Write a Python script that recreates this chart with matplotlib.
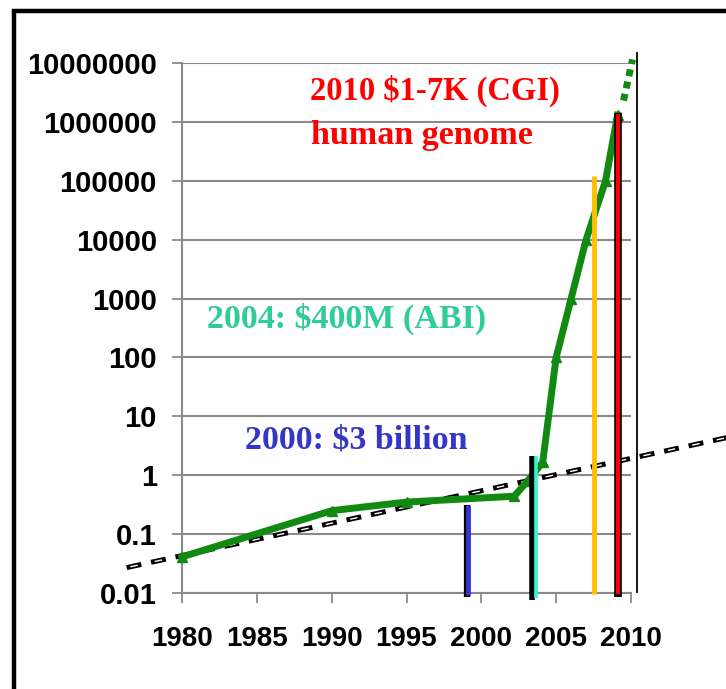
import matplotlib
matplotlib.use("Agg")
import matplotlib.pyplot as plt
from matplotlib.lines import Line2D
from matplotlib.ticker import FixedLocator, FixedFormatter

# sequencing cost curve (green)
green_years = [1980, 1990, 1995, 2002.2, 2003.1, 2004.1, 2005, 2006, 2007, 2008.3, 2009.1]
green_costs = [0.041, 0.25, 0.35, 0.44, 0.8, 1.66, 100, 1000, 10000, 100000, 1300000]

# projected continuation (dotted green)
proj_years = [2009.5, 2010.1]
proj_costs = [2.3e6, 1.15e7]

# exponential trend (dashed black)
trend_years = [1976.3, 2016.5]
trend_costs = [0.027, 4.4]

# milestone markers
bar_years = [1999.1, 2003.5, 2007.55, 2009.15]
bar_tops = [0.31, 2.1, 1.2e5, 1.4e6]
bar_bottoms = [0.0086, 0.0075, 0.0098, 0.0086]
bar_colors = ["#3535C8", "#33F5CC", "#FFC000", "#FF0000"]

end_year = 2010.4
end_top = 1.5e7

y_ticks = [0.01, 0.1, 1, 10, 100, 1000, 10000, 100000, 1000000, 10000000]
y_labels = ["0.01", "0.1", "1", "10", "100", "1000", "10000", "100000", "1000000", "10000000"]
x_ticks = [1980, 1985, 1990, 1995, 2000, 2005, 2010]

W, H = 726, 689
fig = plt.figure(figsize=(W / 100, H / 100), dpi=100)
ax = fig.add_axes([182 / W, 1 - 593 / H, 449 / W, 530 / H])
ax.set_yscale("log")
ax.set_xlim(1980, 2010)
ax.set_ylim(0.01, 1e7)

grid_c = "#8a8a8a"
ax.yaxis.set_major_locator(FixedLocator(y_ticks))
ax.yaxis.set_major_formatter(FixedFormatter(y_labels))
ax.yaxis.set_minor_locator(FixedLocator([]))
ax.set_xticks(x_ticks)
ax.set_xticklabels([str(x) for x in x_ticks])
ax.grid(axis="y", color=grid_c, lw=1.5)
ax.set_axisbelow(True)
for s in ["top", "right"]:
    ax.spines[s].set_visible(False)
for s in ["left", "bottom"]:
    ax.spines[s].set_color(grid_c)
    ax.spines[s].set_linewidth(1.5)
ax.tick_params(axis="both", direction="out", length=7, width=1.3, color=grid_c)
ax.tick_params(axis="y", pad=11)
ax.tick_params(axis="x", pad=17)
for lab in ax.get_xticklabels():
    lab.set_fontfamily("Liberation Sans")
    lab.set_fontweight("bold")
    lab.set_fontsize(20)
for lab in ax.get_yticklabels():
    lab.set_fontfamily("Liberation Sans")
    lab.set_fontweight("bold")
    lab.set_fontsize(21)

# trend line: black dashes with a thin white core
ax.plot(trend_years, trend_costs, color="black", lw=3.6, ls=(0, (3.0, 2.0)),
        clip_on=False, zorder=3, dash_capstyle="butt")
ax.plot(trend_years, trend_costs, color="white", lw=1.0, ls=(15.3, (5.4, 12.6)),
        clip_on=False, zorder=3.1, dash_capstyle="butt")

# green cost curve
ax.plot(green_years, green_costs, color="#128a12", lw=5, marker="^", ms=7,
        clip_on=False, zorder=4)
ax.plot(proj_years, proj_costs, color="#128a12", lw=5, ls=(0, (1, 0.8)),
        clip_on=False, zorder=4, dash_capstyle="butt")

# milestone verticals
for i, (yr, top, bot, c) in enumerate(zip(bar_years, bar_tops, bar_bottoms, bar_colors)):
    if i == 0:
        ax.plot([yr - 0.05, yr - 0.05], [bot, top], color="black", lw=4.5,
                clip_on=False, zorder=5, solid_capstyle="butt")
        ax.plot([yr + 0.02, yr + 0.02], [bot * 1.08, top], color=c, lw=3.5,
                clip_on=False, zorder=5.1, solid_capstyle="butt")
    elif i == 1:
        ax.plot([yr - 0.12, yr - 0.12], [bot, top], color="black", lw=4,
                clip_on=False, zorder=5, solid_capstyle="butt")
        ax.plot([yr + 0.12, yr + 0.12], [bot * 1.1, top], color=c, lw=2.6,
                clip_on=False, zorder=5.1, solid_capstyle="butt")
    elif i == 2:
        ax.plot([yr, yr], [bot, top], color=c, lw=3.5,
                clip_on=False, zorder=5, solid_capstyle="butt")
    else:
        ax.plot([yr, yr], [bot, top], color="black", lw=5.5,
                clip_on=False, zorder=5, solid_capstyle="butt")
        ax.plot([yr, yr], [bot * 1.1, top * 0.97], color=c, lw=3.0,
                clip_on=False, zorder=5.1, solid_capstyle="butt")

ax.plot([end_year, end_year], [0.0105, end_top], color="black", lw=1.3,
        clip_on=False, zorder=5)

# annotations
serif = "Liberation Serif"
ax.text(1988.55, 3.4e6, "2010 $1-7K (CGI)", color="#FF0000", fontsize=23.5,
        fontweight="bold", family=serif, va="center", ha="left")
ax.text(1988.6, 5.8e5, "human genome", color="#FF0000", fontsize=24.5,
        fontweight="bold", family=serif, va="center", ha="left")
ax.text(1981.7, 460, "2004: $400M (ABI)", color="#2ECC98", fontsize=24.5,
        fontweight="bold", family=serif, va="center", ha="left")
ax.text(1984.2, 3.9, "2000: $3 billion", color="#3535C8", fontsize=24.5,
        fontweight="bold", family=serif, va="center", ha="left")

# outer frame (cut off on right and bottom)
fig.add_artist(Line2D([14 / W, 14 / W, 1.05], [-0.05, 1 - 11 / H, 1 - 11 / H],
                      transform=fig.transFigure, color="black", lw=3.2,
                      solid_joinstyle="miter"))

fig.savefig("out.png", dpi=100)
